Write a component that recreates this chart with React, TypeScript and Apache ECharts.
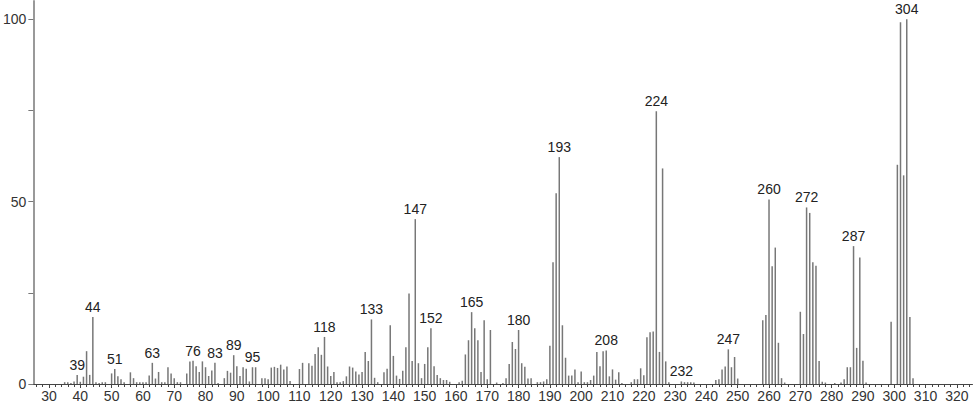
import React, { useEffect, useRef } from "react";
import * as echarts from "echarts";

// m/z values and relative intensities
const mz = [
  35, 36, 37, 38, 39, 40, 41, 42, 43, 44, 45, 46, 47, 48, 50, 51, 52, 53, 54, 56, 57, 58, 59, 60, 61, 62, 63, 64, 65, 66,
  67, 68, 69, 70, 71, 72, 74, 75, 76, 77, 78, 79, 80, 81, 82, 83, 84, 86, 87, 88, 89, 90, 91, 92, 93, 94, 95, 96, 98, 99,
  100, 101, 102, 103, 104, 105, 106, 107, 110, 111, 113, 114, 115, 116, 117, 118, 119, 120, 121, 122, 123, 124, 125, 126,
  127, 128, 129, 130, 131, 132, 133, 134, 135, 137, 138, 139, 140, 141, 142, 143, 144, 145, 146, 147, 148, 149, 150, 151,
  152, 153, 154, 155, 156, 157, 158, 161, 162, 163, 164, 165, 166, 167, 168, 169, 170, 171, 173, 175, 176, 177, 178, 179,
  180, 181, 182, 183, 184, 186, 187, 188, 189, 190, 191, 192, 193, 194, 195, 196, 197, 198, 199, 200, 201, 202, 203, 204,
  205, 206, 207, 208, 209, 210, 211, 212, 213, 216, 217, 218, 219, 220, 221, 222, 223, 224, 225, 226, 227, 228, 232, 233,
  234, 235, 236, 243, 244, 245, 246, 247, 248, 249, 250, 258, 259, 260, 261, 262, 263, 264, 265, 270, 271, 272, 273, 274,
  275, 276, 277, 278, 281, 283, 284, 285, 286, 287, 288, 289, 290, 291, 299, 301, 302, 303, 304, 305, 306,
];
const intensity = [
  0.5, 0.5, 0.3, 0.7, 2.5, 0.6, 2.0, 9.0, 2.5, 18.4, 0.5, 0.3, 0.5, 0.5, 2.9, 4.1, 2.1, 1.3, 0.5, 3.2, 1.6, 0.5, 0.5, 0.5,
  0.5, 2.3, 5.8, 1.5, 3.3, 0.5, 0.5, 4.6, 2.9, 1.6, 0.5, 0.5, 2.9, 6.2, 6.4, 4.9, 3.3, 6.2, 4.6, 2.2, 3.7, 5.8, 0.3, 1.6,
  3.6, 3.1, 7.9, 4.9, 2.2, 4.6, 4.2, 0.7, 4.6, 4.6, 1.6, 1.6, 1.3, 4.5, 4.7, 4.4, 5.3, 4.0, 4.8, 0.8, 4.1, 5.8, 5.7, 5.0,
  8.2, 10.1, 8.0, 12.9, 4.8, 2.2, 3.3, 0.5, 0.5, 0.8, 2.1, 4.8, 4.5, 3.4, 2.6, 3.3, 8.8, 6.3, 17.7, 1.7, 0.5, 3.2, 4.2,
  16.1, 7.7, 2.3, 1.4, 3.6, 10.1, 24.8, 6.3, 45.2, 5.7, 1.6, 5.5, 10.1, 15.3, 4.9, 2.5, 1.6, 1.1, 1.1, 0.6, 0.5, 0.9, 8.1,
  12.0, 19.7, 15.3, 12.0, 3.3, 17.5, 1.3, 14.8, 0.4, 0.3, 1.6, 5.5, 11.5, 9.6, 14.8, 5.7, 4.7, 1.5, 1.6, 0.5, 0.5, 0.7,
  1.3, 10.5, 33.4, 52.3, 62.2, 16.1, 7.2, 2.3, 2.3, 4.0, 0.5, 3.4, 0.5, 0.5, 1.1, 2.3, 8.8, 4.9, 9.0, 9.2, 2.1, 4.0, 1.2,
  3.2, 0.3, 0.5, 1.3, 1.3, 4.3, 2.4, 12.8, 14.2, 14.4, 74.8, 8.8, 59.1, 6.2, 0.5, 0.7, 0.5, 0.5, 0.5, 0.4, 1.1, 1.3, 4.0,
  4.8, 9.5, 4.6, 7.4, 1.5, 17.5, 18.9, 50.6, 32.3, 37.4, 11.3, 1.6, 0.4, 19.8, 13.7, 48.4, 46.9, 33.4, 32.4, 6.3, 0.6, 0.4,
  0.3, 0.4, 1.3, 4.6, 4.6, 37.8, 9.9, 34.7, 6.4, 0.4, 17.1, 60.1, 99.2, 57.2, 100, 18.4, 1.6,
];
const labeledPeaks = [39, 44, 51, 63, 76, 83, 89, 95, 118, 133, 147, 152, 165, 180, 193, 208, 224, 232, 247, 260, 272, 287, 304];
const xTickLabels = [30, 40, 50, 60, 70, 80, 90, 100, 110, 120, 130, 140, 150, 160, 170, 180, 190, 200, 210, 220, 230, 240, 250, 260, 270, 280, 290, 300, 310, 320];
const yTicks = [0, 25, 50, 75, 100];
const yTickLabels = [0, 50, 100];

const FONT = "Liberation Sans";

export default function App() {
  const ref = useRef<HTMLDivElement>(null);
  useEffect(() => {
    const chart = echarts.init(ref.current!, null, { renderer: "svg" });
    const data = mz.map((m, i) =>
      labeledPeaks.includes(m)
        ? { value: [m, intensity[i]], label: { show: true } }
        : { value: [m, intensity[i]] }
    );
    const minorTicks: number[] = [];
    for (let v = 26; v <= 324; v += 2) minorTicks.push(v);
    chart.setOption({
      animation: false,
      backgroundColor: "#fff",
      grid: { left: 29, right: 1.5, top: 1, bottom: 22 },
      xAxis: [
        {
          type: "value",
          min: 25,
          max: 325,
          position: "bottom",
          axisLine: { show: true, lineStyle: { color: "#444", width: 1 } },
          axisTick: { show: true, customValues: xTickLabels, length: 4, lineStyle: { color: "#444" } },
          axisLabel: { customValues: xTickLabels, fontFamily: FONT, fontSize: 14, color: "#333", margin: 5 },
          splitLine: { show: false },
        },
        {
          type: "value",
          min: 25,
          max: 325,
          position: "bottom",
          offset: 0,
          axisLine: { show: false },
          axisTick: { show: true, customValues: minorTicks, length: 3, lineStyle: { color: "#444" } },
          axisLabel: { show: false },
          splitLine: { show: false },
        },
      ],
      yAxis: {
        type: "value",
        min: 0,
        max: 105,
        axisLine: { show: true, lineStyle: { color: "#999", width: 2 } },
        axisTick: { show: true, customValues: yTicks, length: 5, lineStyle: { color: "#777" } },
        axisLabel: { customValues: yTickLabels, fontFamily: FONT, fontSize: 14, color: "#333", margin: 7 },
        splitLine: { show: false },
      },
      series: [
        {
          type: "bar",
          xAxisIndex: 0,
          data,
          barWidth: 1.5,
          itemStyle: { color: "#777" },
          label: {
            show: false,
            position: "top",
            distance: 3,
            fontFamily: FONT,
            fontSize: 14,
            color: "#222",
            formatter: (p: any) => String(p.value[0]),
          },
        },
      ],
    });
    return () => chart.dispose();
  }, []);
  return <div ref={ref} style={{ position: "fixed", left: 0, top: 0, width: 974, height: 406 }} />;
}
